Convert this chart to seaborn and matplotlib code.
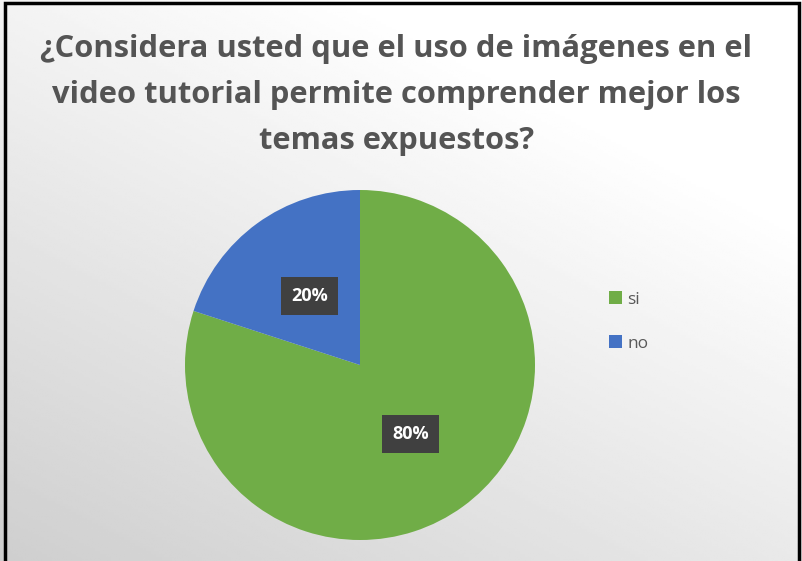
import matplotlib.pyplot as plt
import numpy as np
import seaborn as sns
from matplotlib.patches import Rectangle

sns.set_theme(style="white")
plt.rcParams["font.family"] = ["Open Sans", "DejaVu Sans"]

# chart data
answers = ["si", "no"]
shares = [80, 20]
colors = ["#70AD47", "#4472C4"]
title = "¿Considera usted que el uso de imágenes en el\nvideo tutorial permite comprender mejor los\ntemas expuestos?"

fig = plt.figure(figsize=(8.02, 5.61), dpi=100)

# background gradient (light top-right, grey bottom-left)
bg = fig.add_axes([0, 0, 1, 1])
yy, xx = np.mgrid[0:1:200j, 0:1:300j]
shade = 0.81 + 0.19 * np.clip(0.55 * xx + 0.75 * yy, 0, 1)
bg.imshow(shade, cmap="gray", vmin=0, vmax=1, origin="lower", aspect="auto", extent=[0, 1, 0, 1])
bg.axis("off")

# frame
fig.patches.append(Rectangle((0.006, -0.01), 0.99, 1.005, transform=fig.transFigure,
                             fill=False, edgecolor="black", linewidth=2.5))

# pie
ax = fig.add_axes([(360 - 175) / 802, (196 - 175) / 561, 350 / 802, 350 / 561])
wedges, _, autotexts = ax.pie(
    shares, colors=colors, startangle=90, counterclock=False,
    autopct="%d%%", pctdistance=0.49,
    wedgeprops=dict(linewidth=0),
    textprops=dict(color="white", fontsize=13, fontweight="bold"),
)
for t in autotexts:
    t.set_bbox(dict(boxstyle="square,pad=0.55", facecolor="#404040", edgecolor="none"))
ax.set_xlim(-1, 1)
ax.set_ylim(-1, 1)
ax.set_aspect("equal")
ax.axis("off")

fig.text(0.494, 0.939, title, ha="center", va="top", fontsize=22.2,
         fontweight="bold", color="#545454", linespacing=1.68)

fig.legend(wedges, answers, loc="center left", bbox_to_anchor=(0.74, 0.427),
           frameon=False, fontsize=12.5, labelcolor="#595959", handlelength=0.75,
           handleheight=0.75, handletextpad=0.3, labelspacing=1.6)

fig.savefig("out.png", dpi=100)
